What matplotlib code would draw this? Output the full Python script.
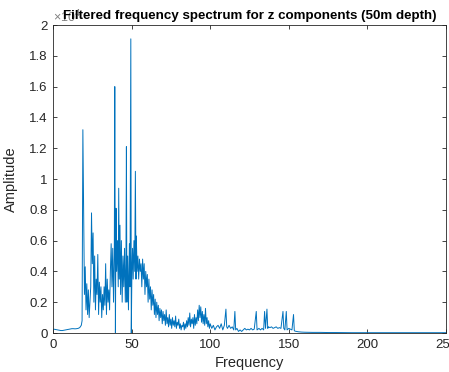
import matplotlib
matplotlib.use('Agg')
import matplotlib.pyplot as plt

#--------------------------------------------------------------------
# Data (amplitude in units of 1e4)
freq = [0, 1, 2, 3, 4, 5, 6, 7, 8, 9, 10, 11, 12, 13, 14, 15, 16, 17, 18, 18.5,
        19, 19.5, 20, 20.5, 21, 21.5, 22, 22.5, 23, 23.5, 24, 24.5, 25, 25.5, 26, 26.5,
        27, 27.5, 28, 28.5, 29, 29.5, 30, 30.5, 31, 31.5, 32, 32.5, 33, 33.5, 34, 34.5,
        35, 35.5, 36, 36.5, 37, 37.5, 38, 38.5, 39, 39.3, 39.7, 40.1, 40.5, 41, 41.5, 41.8,
        42.2, 42.6, 43, 43.5, 44, 44.5, 45, 45.5, 46, 46.4, 46.7, 47, 47.5, 48, 48.6, 49,
        49.5, 49.8, 50.2, 50.6, 51, 51.5, 52, 52.4, 52.8, 53, 53.5, 54, 54.5, 55, 55.5, 56,
        56.5, 57, 57.5, 58, 58.5, 59, 59.5, 60, 60.5, 61, 61.5, 62, 62.5, 63, 63.5, 64,
        64.5, 65, 65.5, 66, 66.5, 67, 67.5, 68, 68.5, 69, 69.5, 70, 70.5, 71, 71.5, 72,
        72.5, 73, 73.5, 74, 74.5, 75, 75.5, 76, 76.5, 77, 77.5, 78, 78.5, 79, 79.5, 80,
        80.5, 81, 81.5, 82, 82.5, 83, 83.5, 84, 84.5, 85, 85.5, 86, 86.5, 87, 87.5, 88,
        88.5, 89, 89.5, 90, 90.5, 91, 91.5, 92, 92.5, 93, 93.5, 94, 94.5, 95, 95.5, 96,
        96.5, 97, 97.5, 98, 98.5, 99, 99.5, 100, 101, 102, 103, 104, 105, 106, 107, 108,
        109, 110, 110.5, 111, 112, 113, 114, 115, 115.7, 116.2, 117, 118, 119, 120, 121,
        122, 123, 124, 125, 126, 127, 128, 129.3, 129.8, 131, 132, 133, 134, 134.6, 135.2,
        136.1, 136.6, 137, 138, 139, 140, 141, 142, 143, 144, 145, 146.3, 146.8, 147.5,
        148.4, 148.9, 150, 151, 152, 153, 153.5, 154, 155, 156, 158, 160, 165, 170, 175,
        180, 190, 200, 210, 220, 230, 240, 250]
amp = [0.025, 0.024, 0.022, 0.020, 0.018, 0.016, 0.016, 0.018, 0.020, 0.022, 0.024,
       0.026, 0.028, 0.028, 0.027, 0.028, 0.030, 0.035, 0.050, 0.080,
       1.32, 0.82, 0.25, 0.43, 0.15, 0.32, 0.12, 0.28, 0.10, 0.20, 0.30, 0.78, 0.45, 0.65,
       0.20, 0.50, 0.15, 0.35, 0.25, 0.51, 0.12, 0.33, 0.20, 0.30, 0.10, 0.25, 0.15, 0.30,
       0.18, 0.45, 0.12, 0.35, 0.20, 0.28, 0.15, 0.40, 0.58, 0.30, 0.55, 0.20, 0.50, 1.60,
       0.0, 0.81, 0.40, 0.60, 0.30, 0.94, 0.35, 0.70, 0.25, 0.60, 0.20, 0.50, 0.30, 0.55,
       0.20, 0.45, 1.21, 0.20, 0.50, 0.15, 0.58, 0.30, 1.91, 0.0, 0.40, 0.55, 0.35, 0.60,
       0.40, 1.05, 0.35, 0.63, 0.40, 0.50, 0.35, 0.48, 0.40, 0.45, 0.30, 0.48, 0.35, 0.45,
       0.25, 0.40, 0.30, 0.38, 0.20, 0.35, 0.22, 0.30, 0.15, 0.28, 0.18, 0.25, 0.12, 0.22,
       0.10, 0.20, 0.12, 0.18, 0.08, 0.16, 0.10, 0.15, 0.06, 0.14, 0.08, 0.12, 0.05, 0.15,
       0.06, 0.10, 0.04, 0.12, 0.05, 0.09, 0.03, 0.10, 0.05, 0.08, 0.04, 0.11, 0.03, 0.07,
       0.05, 0.09, 0.03, 0.06, 0.02, 0.05, 0.04, 0.07, 0.02, 0.06, 0.03, 0.08, 0.04, 0.10,
       0.05, 0.13, 0.04, 0.09, 0.06, 0.10, 0.03, 0.12, 0.05, 0.10, 0.06, 0.15, 0.08, 0.18,
       0.10, 0.17, 0.07, 0.14, 0.06, 0.12, 0.05, 0.16, 0.06, 0.10, 0.04, 0.08, 0.03, 0.06,
       0.03, 0.05, 0.02, 0.04, 0.05, 0.03, 0.06, 0.02, 0.05, 0.155, 0.04, 0.03, 0.05, 0.03,
       0.04, 0.02, 0.14, 0.02, 0.03, 0.01, 0.02, 0.01, 0.02, 0.03, 0.02, 0.025, 0.02,
       0.03, 0.02, 0.025, 0.14, 0.02, 0.03, 0.02, 0.03, 0.02, 0.14, 0.03, 0.155, 0.03,
       0.04, 0.035, 0.04, 0.03, 0.035, 0.04, 0.03, 0.035, 0.03, 0.14, 0.03, 0.02, 0.14,
       0.02, 0.03, 0.025, 0.02, 0.12, 0.015, 0.012, 0.01, 0.008, 0.006, 0.005, 0.004,
       0.004, 0.003, 0.003, 0.002, 0.002, 0.002, 0.002, 0.002, 0.002, 0.002]

xticks = [0, 50, 100, 150, 200, 250]
yticks = [0, 0.2, 0.4, 0.6, 0.8, 1, 1.2, 1.4, 1.6, 1.8, 2]
ytick_labels = ['0', '0.2', '0.4', '0.6', '0.8', '1', '1.2', '1.4', '1.6', '1.8', '2']
#--------------------------------------------------------------------

plt.rcParams['font.family'] = ['Liberation Sans', 'DejaVu Sans']
axcol = '#262626'

fig = plt.figure(figsize=(4.49, 3.72), dpi=100)
ax = fig.add_axes([53/449, 39/372, 393/449, 308/372])

ax.plot(freq, amp, color='#0072BD', lw=0.7)

ax.set_xlim(0, 250)
ax.set_ylim(0, 2)
ax.set_xticks(xticks)
ax.set_yticks(yticks)
ax.set_yticklabels(ytick_labels)
ax.tick_params(direction='in', length=3, width=0.6, colors=axcol,
               labelsize=9.5, top=True, right=True, pad=4)
for s in ax.spines.values():
    s.set_color(axcol)
    s.set_linewidth(0.6)

ax.set_xlabel('Frequency', fontsize=10.5, color=axcol, labelpad=4)
ax.set_ylabel('Amplitude', fontsize=10.5, color=axcol, labelpad=8)

# exponent label (MATLAB style), partly hidden by title
ax.text(0.0, 0.998, '\u00d710$^{4}$', transform=ax.transAxes, fontsize=9,
        color='#808080', ha='left', va='bottom')
ax.set_title('Filtered frequency spectrum for z components (50m depth)',
             fontsize=9.6, fontweight='bold', color='#000000', pad=4)

fig.savefig('out.png', dpi=100)
